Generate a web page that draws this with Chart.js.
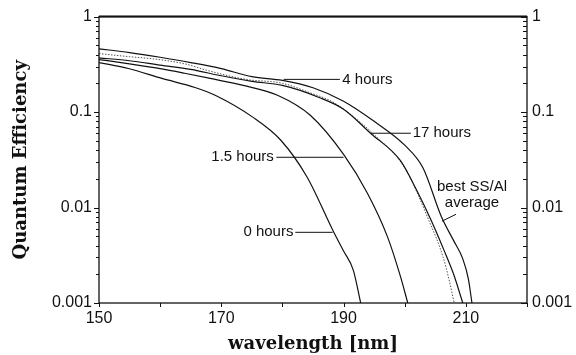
<!DOCTYPE html>
<html>
<head>
<meta charset="utf-8">
<script src="https://cdn.jsdelivr.net/npm/chart.js@4.4.1/dist/chart.umd.min.js"></script>
<style>
  html, body { margin: 0; padding: 0; background: #fff; }
  #wrap { width: 576px; height: 355px; }
</style>
</head>
<body>
<div id="wrap"><canvas id="chart"></canvas></div>
<script>
// ========================== DATA ==========================
// wavelength [nm] / quantum efficiency
const bestX = [150, 155, 160, 165, 170, 175, 180, 185, 190, 195, 200, 203, 206, 208, 209.5, 210.4, 211];
const bestY = [0.46, 0.42, 0.375, 0.33, 0.285, 0.235, 0.215, 0.18, 0.13, 0.08, 0.045, 0.026, 0.008, 0.0045, 0.0029, 0.0018, 0.001];

const h17X = [150, 155, 160, 165, 170, 175, 180, 186, 190, 194.4, 199.3, 202, 204.3, 206.4, 208, 209.5];
const h17Y = [0.37, 0.345, 0.31, 0.28, 0.24, 0.21, 0.19, 0.142, 0.107, 0.06, 0.031, 0.015, 0.0074, 0.0036, 0.002, 0.001];

const h4X = [150, 155, 159, 164, 168, 174, 180, 185, 188, 190.3, 195, 200, 204, 206.3, 207.3, 208.1];
const h4Y = [0.41, 0.38, 0.36, 0.32, 0.27, 0.22, 0.2, 0.155, 0.13, 0.104, 0.058, 0.026, 0.0072, 0.003, 0.0017, 0.001];

const h15X = [150, 155, 160, 164, 168.2, 173.6, 179.2, 184.6, 190, 193.9, 197.2, 199.3, 200.5];
const h15Y = [0.355, 0.32, 0.285, 0.255, 0.225, 0.19, 0.15, 0.092, 0.036, 0.0141, 0.0049, 0.0019, 0.001];

const h0X = [150, 154.8, 160.3, 165.7, 169, 175.2, 179.7, 184, 188.4, 190, 191.6, 192.8];
const h0Y = [0.33, 0.286, 0.225, 0.181, 0.15, 0.088, 0.051, 0.021, 0.0055, 0.0035, 0.0022, 0.001];

// ticks
const xMajor = [150, 170, 190, 210];
const xAllTicks = [150, 160, 170, 180, 190, 200, 210, 220];
const yMajor = [0.001, 0.01, 0.1, 1];
const yTickLabels = ["0.001", "0.01", "0.1", "1"];
const yMinor = [
  0.002, 0.003, 0.004, 0.005, 0.006, 0.007, 0.008, 0.009,
  0.02, 0.03, 0.04, 0.05, 0.06, 0.07, 0.08, 0.09,
  0.2, 0.3, 0.4, 0.5, 0.6, 0.7, 0.8, 0.9
];

// labels with pointer lines (data coordinates)
const notes = [
  { lines: ["4 hours"], x: 189.8, y: 0.22, align: "left", from: [180.2, 0.22], to: [189.4, 0.22] },
  { lines: ["17 hours"], x: 201.3, y: 0.06, align: "left", from: [194.4, 0.06], to: [201.0, 0.06] },
  { lines: ["1.5 hours"], x: 178.6, y: 0.0336, align: "right", from: [179.0, 0.0336], to: [190.0, 0.0336] },
  { lines: ["0 hours"], x: 181.8, y: 0.0055, align: "right", from: [182.1, 0.0055], to: [188.2, 0.0055] },
  { lines: ["best SS/Al", "average"], x: 211.0, y: 0.0163, align: "center", from: [208.4, 0.0085], to: [206.1, 0.0072] }
];

// ========================== HELPERS ==========================
const ink = "#111";
const pts = (xs, ys) => xs.map((x, i) => ({ x, y: ys[i] }));

function lineSet(label, xs, ys, dotted) {
  return {
    label,
    data: pts(xs, ys),
    borderColor: dotted ? "#555" : ink,
    borderWidth: dotted ? 1 : 1.2,
    borderDash: dotted ? [1.5, 1.5] : [],
    pointRadius: 0,
    fill: false,
    cubicInterpolationMode: "monotone"
  };
}

// ========================== FRAME / TICKS / NOTES ==========================
const framePlugin = {
  id: "frame",
  afterDatasetsDraw(chart) {
    const { ctx, chartArea: a, scales } = chart;
    const xs = scales.x, ys = scales.y;
    ctx.save();
    ctx.strokeStyle = ink;

    // box
    ctx.lineWidth = 1.3;
    ctx.strokeRect(a.left, a.top, a.right - a.left, a.bottom - a.top);
    ctx.lineWidth = 2;
    ctx.beginPath();
    ctx.moveTo(a.left, a.top);
    ctx.lineTo(a.right, a.top);
    ctx.stroke();

    // y ticks: left outward, right inward
    ctx.lineWidth = 1;
    ctx.beginPath();
    yMajor.concat(yMinor).forEach(v => {
      const py = Math.round(ys.getPixelForValue(v)) + 0.5;
      const len = yMajor.includes(v) ? 5 : 3;
      ctx.moveTo(a.left, py); ctx.lineTo(a.left - len, py);
      ctx.moveTo(a.right, py); ctx.lineTo(a.right - len - 1, py);
    });
    // x ticks: downward
    xAllTicks.forEach(v => {
      const px = Math.round(xs.getPixelForValue(v)) + 0.5;
      ctx.moveTo(px, a.bottom); ctx.lineTo(px, a.bottom + 4);
    });
    ctx.stroke();

    // notes
    ctx.font = "15px 'Liberation Sans', Arial, sans-serif";
    ctx.fillStyle = ink;
    ctx.textBaseline = "middle";
    notes.forEach(n => {
      ctx.beginPath();
      ctx.moveTo(xs.getPixelForValue(n.from[0]), ys.getPixelForValue(n.from[1]));
      ctx.lineTo(xs.getPixelForValue(n.to[0]), ys.getPixelForValue(n.to[1]));
      ctx.stroke();
      ctx.textAlign = n.align;
      const tx = xs.getPixelForValue(n.x);
      const ty = ys.getPixelForValue(n.y);
      n.lines.forEach((t, i) => ctx.fillText(t, tx, ty + i * 16));
    });
    ctx.restore();
  }
};

// ========================== CHART ==========================
const tickFont = { family: "'Liberation Sans', Arial, sans-serif", size: 16 };
const titleFont = { family: "'DejaVu Serif', 'Liberation Serif', serif", size: 18, weight: "bold" };

new Chart(document.getElementById("chart"), {
  type: "line",
  data: {
    datasets: [
      lineSet("best SS/Al average", bestX, bestY, false),
      lineSet("17 hours", h17X, h17Y, false),
      lineSet("4 hours", h4X, h4Y, true),
      lineSet("1.5 hours", h15X, h15Y, false),
      lineSet("0 hours", h0X, h0Y, false)
    ]
  },
  options: {
    responsive: true,
    maintainAspectRatio: false,
    animation: false,
    devicePixelRatio: 1,
    layout: { padding: { top: 16, left: 0, right: 0, bottom: 0 } },
    plugins: { legend: { display: false }, tooltip: { enabled: false } },
    scales: {
      x: {
        type: "linear",
        min: 150,
        max: 220,
        grid: { display: false, drawTicks: false },
        border: { display: false },
        afterBuildTicks: s => { s.ticks = xMajor.map(v => ({ value: v })); },
        afterFit: s => { s.height = 52; },
        ticks: { font: tickFont, color: ink, padding: 6, maxRotation: 0 },
        title: { display: true, text: "wavelength [nm]", font: titleFont, color: ink, padding: { top: 0, bottom: 0 } }
      },
      y: {
        type: "logarithmic",
        position: "left",
        min: 0.001,
        max: 1,
        grid: { display: false, drawTicks: false },
        border: { display: false },
        afterBuildTicks: s => { s.ticks = yMajor.map(v => ({ value: v })); },
        afterFit: s => { s.width = 99; },
        ticks: { font: tickFont, color: ink, padding: 7, callback: (v, i) => yTickLabels[i] },
        title: { display: true, text: "Quantum Efficiency", font: titleFont, color: ink, padding: { top: 11, bottom: 0 } }
      },
      yRight: {
        type: "logarithmic",
        position: "right",
        min: 0.001,
        max: 1,
        grid: { display: false, drawTicks: false },
        border: { display: false },
        afterBuildTicks: s => { s.ticks = yMajor.map(v => ({ value: v })); },
        afterFit: s => { s.width = 49; },
        ticks: { font: tickFont, color: ink, padding: 5, callback: (v, i) => yTickLabels[i] }
      }
    }
  },
  plugins: [framePlugin]
});
</script>
</body>
</html>
